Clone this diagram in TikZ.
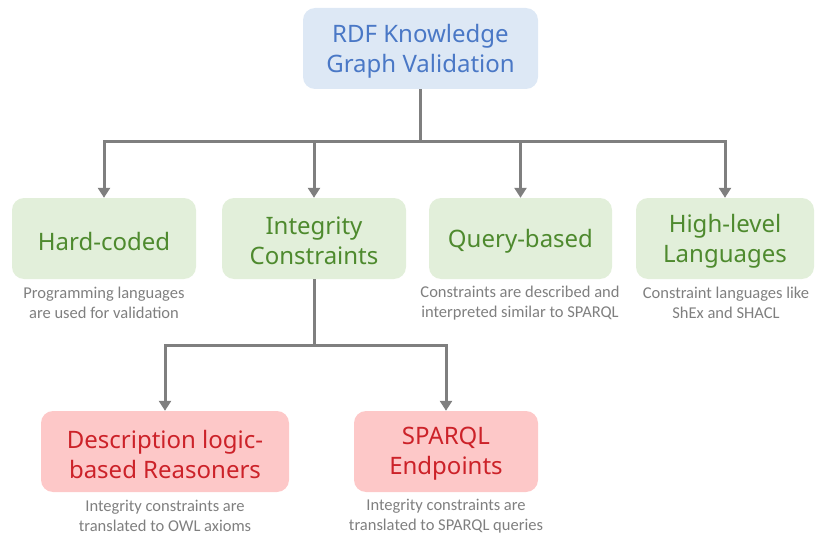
\documentclass[tikz,border=0pt]{standalone}
\usepackage{fontspec}
\setmainfont{Noto Sans}
\newfontfamily\capfont{Carlito}
\usetikzlibrary{arrows.meta}
\definecolor{bluefill}{HTML}{DDE8F5}
\definecolor{bluetext}{HTML}{4A78C6}
\definecolor{greenfill}{HTML}{E2EFDA}
\definecolor{greentext}{HTML}{4E8A2E}
\definecolor{redfill}{HTML}{FDC8C8}
\definecolor{redtext}{HTML}{CC2229}
\definecolor{linegray}{HTML}{7F7F7F}
\definecolor{capgray}{HTML}{7F7F7F}
\tikzset{
  x=1pt, y=-1pt,
  box/.style={rounded corners=12pt, minimum height=81pt, inner sep=0pt},
  boxtext/.style={align=center, inner sep=0pt, font=\fontsize{24}{30}\selectfont},
  rootbox/.style={box, fill=bluefill},
  greenbox/.style={box, fill=greenfill},
  redbox/.style={box, fill=redfill},
  caption/.style={align=center, text=capgray, inner sep=0pt,
    font=\capfont\fontsize{16.5}{20}\selectfont},
  conn/.style={draw=linegray, line width=3pt},
  arr/.style={conn, -{Triangle[length=10pt,width=12pt]}},
}
\begin{document}
\begin{tikzpicture}
\useasboundingbox (0,0) rectangle (815,535);
\node[rootbox, minimum width=235pt] (root) at (420.5,48.5) {};
\node[greenbox, minimum width=184pt] (hard) at (104,238.5) {};
\node[greenbox, minimum width=184pt] (integ) at (314,238.5) {};
\node[greenbox, minimum width=183pt] (query) at (520.5,238.5) {};
\node[greenbox, minimum width=178pt] (high) at (725,238.5) {};
\node[redbox, minimum width=248pt] (desc) at (165,451.5) {};
\node[redbox, minimum width=184pt] (spq) at (446,451.5) {};

\node[boxtext, text=bluetext] (roott) at ([yshift=-2.5pt]root.center) {RDF Knowledge\\Graph Validation};
\node[boxtext, text=greentext] (hardt) at ([yshift=-2.5pt]hard.center) {Hard-coded};
\node[boxtext, text=greentext] (integt) at ([yshift=-2.5pt]integ.center) {Integrity\\Constraints};
\node[boxtext, text=greentext] (queryt) at ([yshift=-2.5pt]query.center) {Query-based};
\node[boxtext, text=greentext] (hight) at ([yshift=-2.5pt]high.center) {High-level\\Languages};
\node[boxtext, text=redtext] (desct) at ([yshift=-2.5pt]desc.center) {Description logic-\\based Reasoners};
\node[boxtext, text=redtext] (spqt) at ([yshift=-2.5pt]spq.center) {SPARQL\\Endpoints};

\node[caption] (c1) at (104,303) {Programming languages\\are used for validation};
\node[caption] (c2) at (520,303) {Constraints are described and\\interpreted similar to SPARQL};
\node[caption] (c3) at (726,303) {Constraint languages like\\ShEx and SHACL};
\node[caption] (c4) at (165,516) {Integrity constraints are\\translated to OWL axioms};
\node[caption] (c5) at (446,516) {Integrity constraints are\\translated to SPARQL queries};

\coordinate (j1) at (420.5,142);
\coordinate (j2) at (314,345);
\draw[conn] (root.south) -- (j1);
\draw[arr] (j1) -| (hard.north);
\draw[arr] (j1) -| (integ.north);
\draw[arr] (j1) -| (query.north);
\draw[arr] (j1) -| (high.north);
\draw[conn] (integ.south) -- (j2);
\draw[arr] (j2) -| (desc.north);
\draw[arr] (j2) -| (spq.north);
\end{tikzpicture}
\end{document}
